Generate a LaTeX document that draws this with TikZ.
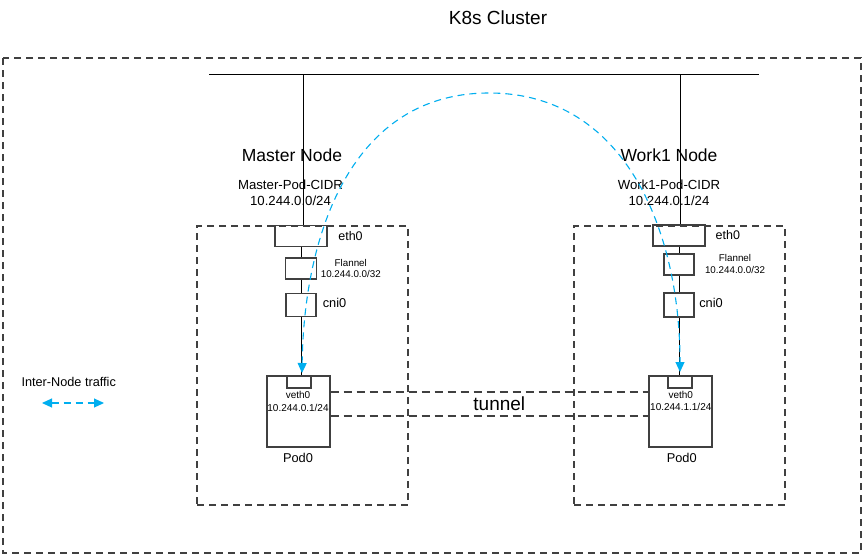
\documentclass[tikz,border=0pt]{standalone}
\usepackage{fontspec}
\setmainfont{Liberation Sans}
\usetikzlibrary{arrows.meta}
\definecolor{flowblue}{RGB}{0,174,239}
\definecolor{boxgray}{RGB}{64,64,64}
\begin{document}
\begin{tikzpicture}[x=1pt,y=-1pt,
  lbl/.style={anchor=base,inner sep=0pt,font=\fontsize{#1pt}{#1pt}\selectfont},
  devbox/.style={draw=boxgray,line width=1.3pt,rectangle,inner sep=0pt,minimum width=#1},
  zone/.style={draw=boxgray,line width=1.3pt,dash pattern=on 7pt off 5pt},
  tunnelline/.style={draw=boxgray,line width=1.2pt,dash pattern=on 8pt off 5pt},
  wire/.style={draw=black,line width=1pt},
  flowline/.style={draw=flowblue,line width=1.1pt,dash pattern=on 7pt off 5pt,
    {Triangle[length=10pt,width=9pt]}-{Triangle[length=10pt,width=9pt]}}
]
\useasboundingbox (0,0) rectangle (866,554);

% outer cluster frame
\draw[zone] (3,58) rectangle (861,553);
\node[lbl=19] (title) at (498,24) {K8s Cluster};

% node zones
\node[zone,rectangle,inner sep=0pt,minimum width=211pt,minimum height=279pt] (zoneM) at (302.5,365.5) {};
\node[zone,rectangle,inner sep=0pt,minimum width=211pt,minimum height=279pt] (zoneW) at (679.5,365.5) {};

% bus
\coordinate (busL) at (209,74);
\coordinate (busR) at (759,74);
\coordinate (tapM) at (303,74);
\coordinate (tapW) at (680,74);
\draw[wire] (busL) -- (busR);

% headings
\node[lbl=17.5] (hM) at (292,161.5) {Master Node};
\node[lbl=13.2] (cidrM1) at (290.5,189) {Master-Pod-CIDR};
\node[lbl=13.2] (cidrM2) at (290.5,205.5) {10.244.0.0/24};
\node[lbl=17.5] (hW) at (669,161) {Work1 Node};
\node[lbl=13.2] (cidrW1) at (669,189) {Work1-Pod-CIDR};
\node[lbl=13.2] (cidrW2) at (669,205.5) {10.244.0.1/24};

% master devices
\node[devbox=52pt,minimum height=21pt] (eth0M) at (301,236) {};
\node[devbox=31pt,minimum height=21pt] (flanM) at (301,268.5) {};
\node[devbox=30pt,minimum height=23pt] (cniM) at (301,305) {};
\node[devbox=63pt,minimum height=71pt] (podM) at (298.5,411.5) {};
\node[devbox=24pt,minimum height=12pt] (vethM) at (299,382) {};

% work devices
\node[devbox=52pt,minimum height=21pt] (eth0W) at (679,235.5) {};
\node[devbox=30pt,minimum height=21pt] (flanW) at (679,264.5) {};
\node[devbox=30pt,minimum height=24pt] (cniW) at (679,305) {};
\node[devbox=63pt,minimum height=71pt] (podW) at (680.5,411.5) {};
\node[devbox=24pt,minimum height=12pt] (vethW) at (680,382) {};

% wires
\draw[wire] (tapM) -- (tapM |- eth0M.north);
\draw[wire] (eth0M.south) -- (flanM.north);
\draw[wire] (flanM.south) -- (cniM.north);
\draw[wire] (cniM.south) -- (cniM.south |- vethM.north);
\draw[wire] (tapW) -- (tapW |- eth0W.north);
\draw[wire] (eth0W.south) -- (flanW.north);
\draw[wire] (flanW.south) -- (cniW.north);
\draw[wire] (cniW.south) -- (cniW.south |- vethW.north);

% device labels master
\node[lbl=12.5] (teth0M) at (350.5,240) {eth0};
\node[lbl=9.8] (tflanM) at (350.8,266) {Flannel};
\node[lbl=9.8] (tflanipM) at (350.8,277.7) {10.244.0.0/32};
\node[lbl=12.8] (tcniM) at (334.5,307.3) {cni0};
\node[lbl=10] (tvethM) at (298,398.7) {veth0};
\node[lbl=10] (tvethipM) at (298,411) {10.244.0.1/24};
\node[lbl=12.8] (tpodM) at (298,462.7) {Pod0};

% device labels work
\node[lbl=12.5] (teth0W) at (727.8,239.3) {eth0};
\node[lbl=9.8] (tflanW) at (735,261.7) {Flannel};
\node[lbl=9.8] (tflanipW) at (735,273.3) {10.244.0.0/32};
\node[lbl=12.8] (tcniW) at (711,307.3) {cni0};
\node[lbl=10] (tvethW) at (680.8,398.3) {veth0};
\node[lbl=10] (tvethipW) at (680.8,410.7) {10.244.1.1/24};
\node[lbl=12.8] (tpodW) at (681.7,462.3) {Pod0};

% tunnel
\draw[tunnelline] ([yshift=19.5pt]podM.east) -- ([yshift=19.5pt]podW.west);
\draw[tunnelline] ([yshift=-4.5pt]podM.east) -- ([yshift=-4.5pt]podW.west);
\node[lbl=19] (ttun) at (499.3,410) {tunnel};

% inter-node flow
\coordinate (flowM) at (302,373);
\coordinate (flowW) at (680,372);
\coordinate (peak) at (489,93);
\draw[flowline] (flowM) .. controls (304,233) and (352,93) .. (peak)
  .. controls (626,93) and (680,232) .. (flowW);

% legend
\node[lbl=12.7] (legtxt) at (68.7,386) {Inter-Node traffic};
\coordinate (legA) at (42,403);
\coordinate (legB) at (104,403);
\draw[flowline] (legA) -- (legB);
\end{tikzpicture}
\end{document}
